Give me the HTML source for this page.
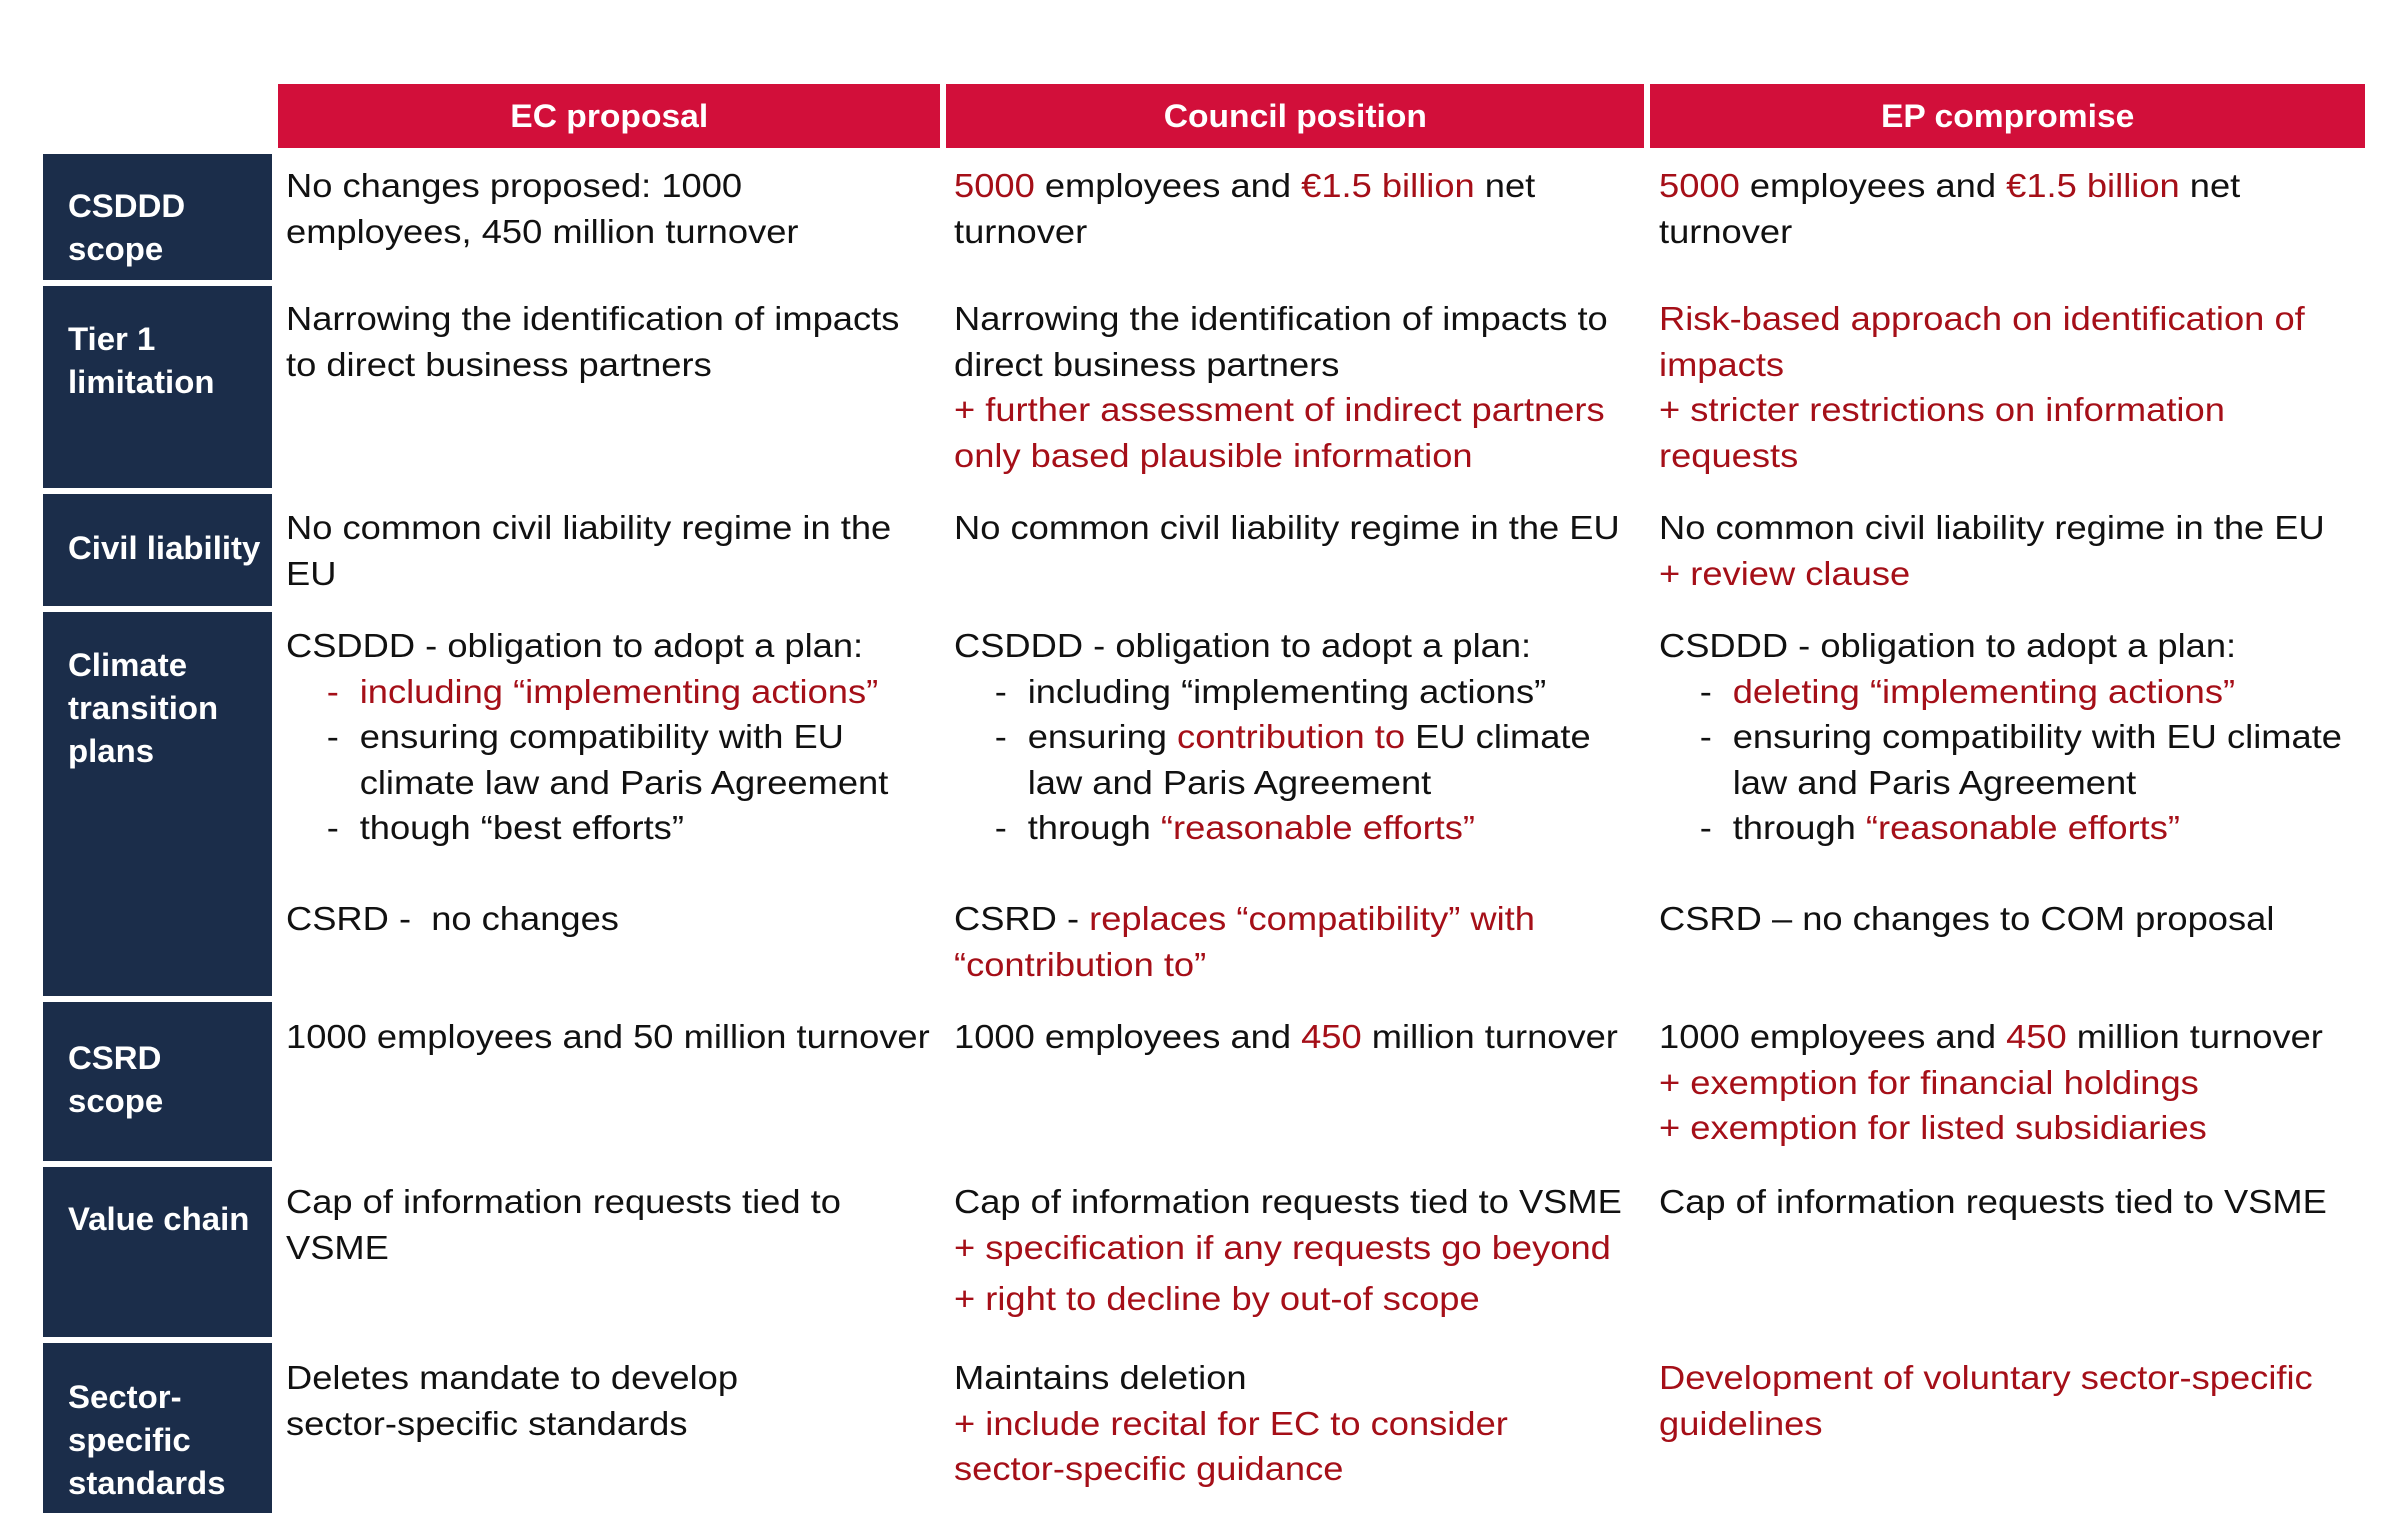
<!DOCTYPE html>
<html><head><meta charset="utf-8"><style>
body{margin:0;width:2397px;height:1524px;background:#fff;position:relative;overflow:hidden;font-family:"Liberation Sans",Arial,sans-serif}
.h{position:absolute;top:84px;height:64px;background:#d20f3a;color:#fff;font-weight:bold;font-size:32px;line-height:64px;text-align:center}
.h span{display:inline-block;transform:scaleX(1.05)}
.l{position:absolute;left:43px;width:229px;background:#1b2d4a}
.lt{position:absolute;left:68px;color:#fff;font-weight:bold;font-size:32px;line-height:43px;white-space:nowrap;transform:scaleX(1.03);transform-origin:0 0}
.c{position:absolute;font-size:33px;line-height:45.5px;color:#111;white-space:nowrap;transform:scaleX(1.10);transform-origin:0 0}
.r{color:#a50f18}
.b{padding-left:67px;position:relative}
.b:before{content:"-";position:absolute;left:37px}
.br:before{color:#a50f18}
</style></head><body>
<div class="h" style="left:278px;width:662px"><span>EC proposal</span></div>
<div class="h" style="left:946px;width:698px"><span>Council position</span></div>
<div class="h" style="left:1650px;width:715px"><span>EP compromise</span></div>

<div class="l" style="top:154px;height:126px"></div>
<div class="l" style="top:286px;height:202px"></div>
<div class="l" style="top:494px;height:112px"></div>
<div class="l" style="top:612px;height:384px"></div>
<div class="l" style="top:1002px;height:159px"></div>
<div class="l" style="top:1167px;height:170px"></div>
<div class="l" style="top:1343px;height:170px"></div>

<div class="lt" style="top:185px">CSDDD<br>scope</div>
<div class="lt" style="top:318px">Tier 1<br>limitation</div>
<div class="lt" style="top:527px">Civil liability</div>
<div class="lt" style="top:644px">Climate<br>transition<br>plans</div>
<div class="lt" style="top:1037px">CSRD<br>scope</div>
<div class="lt" style="top:1198px">Value chain</div>
<div class="lt" style="top:1376px">Sector-<br>specific<br>standards</div>

<div class="c" style="left:286px;top:163px">No changes proposed: 1000<br>employees, 450 million turnover</div>
<div class="c" style="left:954px;top:163px"><span class="r">5000</span> employees and <span class="r">€1.5 billion</span> net<br>turnover</div>
<div class="c" style="left:1659px;top:163px"><span class="r">5000</span> employees and <span class="r">€1.5 billion</span> net<br>turnover</div>

<div class="c" style="left:286px;top:296px">Narrowing the identification of impacts<br>to direct business partners</div>
<div class="c" style="left:954px;top:296px">Narrowing the identification of impacts to<br>direct business partners<br><span class="r">+ further assessment of indirect partners<br>only based plausible information</span></div>
<div class="c r" style="left:1659px;top:296px">Risk-based approach on identification of<br>impacts<br>+ stricter restrictions on information<br>requests</div>

<div class="c" style="left:286px;top:505px">No common civil liability regime in the<br>EU</div>
<div class="c" style="left:954px;top:505px">No common civil liability regime in the EU</div>
<div class="c" style="left:1659px;top:505px">No common civil liability regime in the EU<br><span class="r">+ review clause</span></div>

<div class="c" style="left:286px;top:623px">CSDDD - obligation to adopt a plan:
<div class="b br r">including “implementing actions”</div>
<div class="b">ensuring compatibility with EU<br>climate law and Paris Agreement</div>
<div class="b">though “best efforts”</div>
<div style="height:45.5px"></div>CSRD -&nbsp; no changes</div>
<div class="c" style="left:954px;top:623px">CSDDD - obligation to adopt a plan:
<div class="b">including “implementing actions”</div>
<div class="b">ensuring <span class="r">contribution to</span> EU climate<br>law and Paris Agreement</div>
<div class="b">through <span class="r">“reasonable efforts”</span></div>
<div style="height:45.5px"></div>CSRD - <span class="r">replaces “compatibility” with<br>“contribution to”</span></div>
<div class="c" style="left:1659px;top:623px">CSDDD - obligation to adopt a plan:
<div class="b"><span class="r">deleting “implementing actions”</span></div>
<div class="b">ensuring compatibility with EU climate<br>law and Paris Agreement</div>
<div class="b">through <span class="r">“reasonable efforts”</span></div>
<div style="height:45.5px"></div>CSRD – no changes to COM proposal</div>

<div class="c" style="left:286px;top:1014px">1000 employees and 50 million turnover</div>
<div class="c" style="left:954px;top:1014px">1000 employees and <span class="r">450</span> million turnover</div>
<div class="c" style="left:1659px;top:1014px">1000 employees and <span class="r">450</span> million turnover<br><span class="r">+ exemption for financial holdings<br>+ exemption for listed subsidiaries</span></div>

<div class="c" style="left:286px;top:1179px">Cap of information requests tied to<br>VSME</div>
<div class="c" style="left:954px;top:1179px">Cap of information requests tied to VSME<br><span class="r">+ specification if any requests go beyond</span><div class="r" style="margin-top:6px">+ right to decline by out-of scope</div></div>
<div class="c" style="left:1659px;top:1179px">Cap of information requests tied to VSME</div>

<div class="c" style="left:286px;top:1355px">Deletes mandate to develop<br>sector-specific standards</div>
<div class="c" style="left:954px;top:1355px">Maintains deletion<br><span class="r">+ include recital for EC to consider<br>sector-specific guidance</span></div>
<div class="c r" style="left:1659px;top:1355px">Development of voluntary sector-specific<br>guidelines</div>
</body></html>
